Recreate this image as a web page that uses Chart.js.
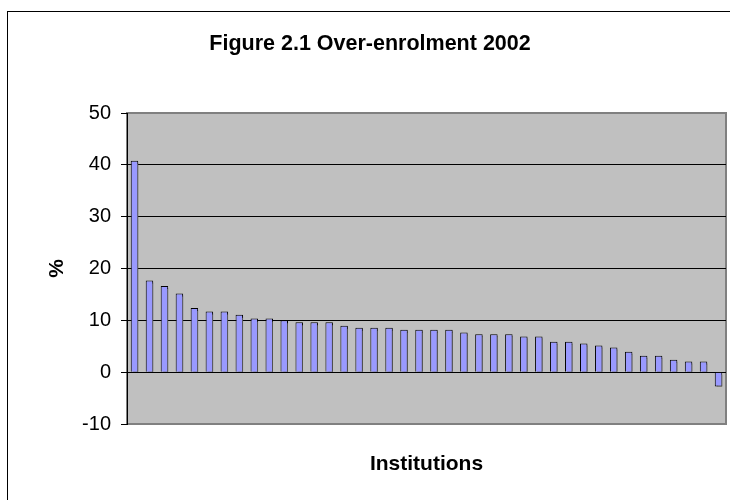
<!DOCTYPE html>
<html><head><meta charset="utf-8">
<script src="https://cdn.jsdelivr.net/npm/chart.js@4/dist/chart.umd.min.js"></script>
<style>html,body{margin:0;padding:0;background:#fff}#wrap{width:730px;height:500px}</style>
</head>
<body><div id="wrap"><canvas id="c" width="730" height="500"></canvas></div>
<script>
const institutions = ['1','2','3','4','5','6','7','8','9','10','11','12','13','14','15','16','17','18','19','20',
  '21','22','23','24','25','26','27','28','29','30','31','32','33','34','35','36','37','38','39','40'];
const overEnrolment = [40.8, 17.7, 16.6, 15.2, 12.4, 11.7, 11.7, 11.1, 10.35, 10.35, 10.0, 9.65, 9.65, 9.65,
  8.94, 8.55, 8.55, 8.55, 8.17, 8.17, 8.17, 8.17, 7.65, 7.33, 7.33, 7.33,
  6.88, 6.88, 5.85, 5.85, 5.53, 5.14, 4.76, 3.92, 3.15, 3.15, 2.38, 2.06, 2.06, -2.77];
const yMin = -10, yMax = 50, yStep = 10;
const chartTitle = 'Figure 2.1 Over-enrolment 2002';
const xTitle = 'Institutions';
const yTitle = '%';

const FONT = '"Liberation Sans", Arial, sans-serif';

const framePlugin = {
  id: 'frame',
  beforeDraw(chart) {
    const {ctx, chartArea: a} = chart;
    ctx.save();
    ctx.fillStyle = '#fff';
    ctx.fillRect(0, 0, chart.width, chart.height);
    ctx.strokeStyle = '#000';
    ctx.lineWidth = 1;
    ctx.strokeRect(7.5, 11.5, chart.width + 20, chart.height + 20);
    ctx.fillStyle = '#C0C0C0';
    ctx.fillRect(a.left, a.top, a.right - a.left, a.bottom - a.top);
    ctx.strokeStyle = '#808080';
    ctx.lineWidth = 2;
    ctx.strokeRect(a.left, a.top, a.right - a.left, a.bottom - a.top);
    ctx.restore();
  },
  beforeDatasetsDraw(chart) {
    const ctx = chart.ctx;
    ctx.save();
    ctx.shadowColor = 'rgba(90,90,90,0.9)';
    ctx.shadowOffsetX = 2;
    ctx.shadowOffsetY = 2;
    ctx.shadowBlur = 0;
  },
  afterDatasetsDraw(chart) {
    chart.ctx.restore();
  }
};

new Chart(document.getElementById('c'), {
  type: 'bar',
  data: {
    labels: institutions,
    datasets: [{
      data: overEnrolment,
      backgroundColor: '#9999FF',
      borderColor: '#000',
      borderWidth: 1,
      barPercentage: 0.5,
      categoryPercentage: 1.0
    }]
  },
  options: {
    responsive: false,
    animation: false,
    devicePixelRatio: 1,
    layout: {padding: {left: 14, right: 4, top: 0, bottom: 0}},
    plugins: {
      legend: {display: false},
      tooltip: {enabled: false},
      title: {
        display: true, text: chartTitle, color: '#000',
        font: {family: FONT, size: 21.5, weight: 'bold'},
        padding: {top: 31.1, bottom: 56.1}
      }
    },
    scales: {
      x: {
        grid: {display: false},
        border: {display: false},
        ticks: {display: false},
        title: {display: true, text: xTitle, color: '#000',
          font: {family: FONT, size: 21, weight: 'bold'}, padding: {top: 0, bottom: 23.4}},
        afterFit(s) { s.height = 76; }
      },
      y: {
        min: yMin, max: yMax,
        ticks: {stepSize: yStep, color: '#000', font: {family: FONT, size: 20}, padding: 10},
        grid: {
          color: (c) => (c.tick && (c.tick.value === yMax || c.tick.value === yMin)) ? 'rgba(0,0,0,0)' : '#000',
          tickColor: '#000', tickLength: 6, lineWidth: 1
        },
        border: {color: '#000', width: 1},
        title: {display: true, text: yTitle, color: '#000',
          font: {family: FONT, size: 21, weight: 'bold'}, padding: {top: 30.4, bottom: 0}},
        afterFit(s) { s.width = 113; }
      }
    }
  },
  plugins: [framePlugin]
});
</script>
</body></html>
